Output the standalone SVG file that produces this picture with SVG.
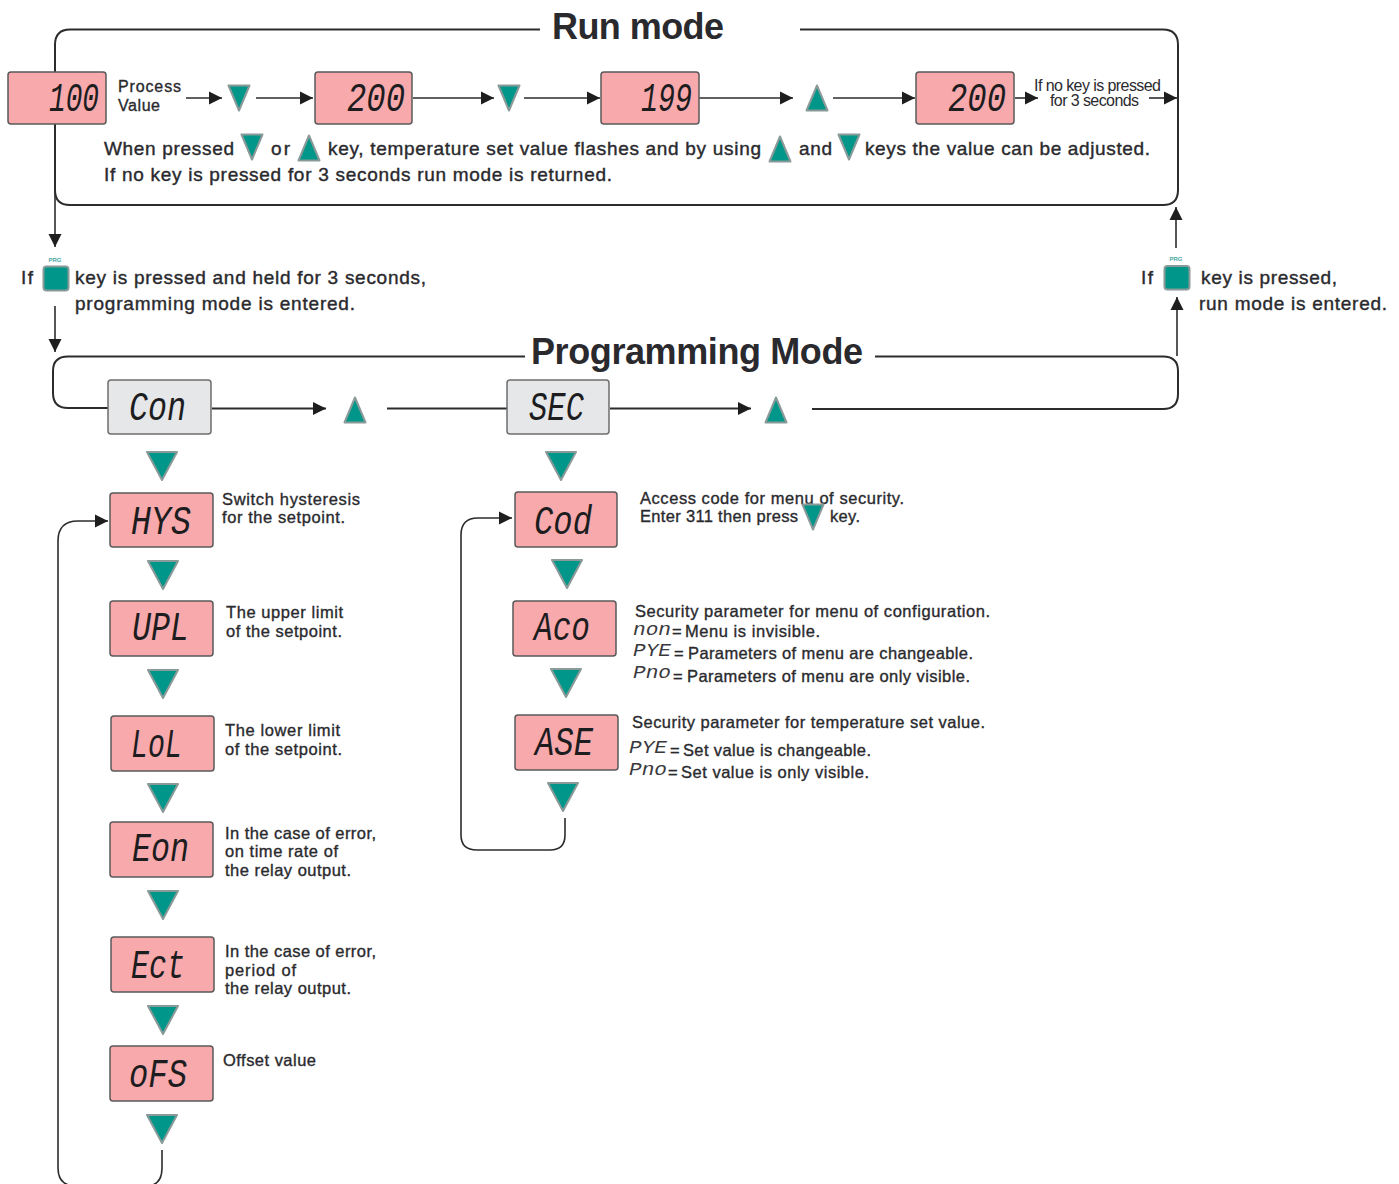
<svg xmlns="http://www.w3.org/2000/svg" width="1399" height="1184" viewBox="0 0 1399 1184">
<style>
text{font-family:"Liberation Sans",Arial,sans-serif;fill:#2a2a2e}
.t{font-size:16px;stroke:#2a2a2e;stroke-width:.35}
.m{font-size:19px;stroke:#2a2a2e;stroke-width:.4}
.s{font-size:16.500px;stroke:#2a2a2e;stroke-width:.35}
.h{font-size:36px;font-weight:bold}
.p{font-size:6px;font-weight:bold;fill:#4aa8a4;text-anchor:middle}
.d{font-family:"Liberation Mono",monospace;font-size:41px;font-style:italic;fill:#1d1d1f}
.i{font-family:"Liberation Mono",monospace;font-size:19px;font-style:italic;fill:#3a3a3e}
.b{fill:#f8a9ac;stroke:#5a5a5a;stroke-width:1.500}
.g{fill:#e6e7e8;stroke:#6e6e6e;stroke-width:1.500}
.k{fill:#009689;stroke:#8a9a98;stroke-width:2;stroke-linejoin:round}
.l{fill:none;stroke:#2c2c2c;stroke-width:1.600}
.f{fill:none;stroke:#2c2c2c;stroke-width:2}
.a{marker-end:url(#ah)}
</style>
<defs>
<marker id="ah" markerUnits="userSpaceOnUse" markerWidth="14" markerHeight="14" refX="13" refY="7" orient="auto"><path d="M0 0.500L13 7L0 13.500Z" fill="#1e1e1e"/></marker>
<path id="dn" class="k" d="M-15 -14H15L0 14Z"/>
<path id="dns" class="k" d="M-10.500 -12.500H10.500L0 12.500Z"/>
<path id="ups" class="k" d="M-10.500 12.500H10.500L0 -12.500Z"/>
</defs>

<g id="connectors">
<path class="f" d="M540 29.500H70Q55 29.500 55 45V72M55 124V190Q55 205 70 205H1163Q1178 205 1178 190V45Q1178 29.500 1163 29.500H800"/>
<path class="f" d="M525 356.500H68Q53 356.500 53 371V393Q53 408 68 408H108M875 356.500H1163Q1178 356.500 1178 371V394Q1178 409 1163 409H812"/>
<path class="l a" d="M186 98H222"/>
<path class="l a" d="M256 98H313"/>
<path class="l a" d="M413 98H494"/>
<path class="l a" d="M524 98H600"/>
<path class="l a" d="M699 98H793"/>
<path class="l a" d="M833 98H915"/>
<path class="l a" d="M1015 98H1038"/>
<path class="l a" d="M1149 98H1177"/>
<path class="l a" d="M55 190V247"/>
<path class="l a" d="M55 306V352"/>
<path class="l a" d="M1176 248V207"/>
<path class="l a" d="M1177 356V297"/>
<path class="f a" d="M212 408.500H326"/>
<path class="f" d="M387 408.500H507"/>
<path class="f a" d="M610 408.500H751"/>
<path class="l a" d="M162 1150V1168Q162 1186 146 1186H76Q58 1186 58 1168V541Q58 521 78 521H108"/>
<path class="l a" d="M565 818V835Q565 850 550 850H477Q461 850 461 835V535Q461 518 478 518H512"/>
</g>

<g id="run-title"><text class="h" x="552" y="39" textLength="172">Run mode</text></g>
<g id="prog-title"><text class="h" x="531" y="364" textLength="332">Programming Mode</text></g>

<g id="pv100"><rect class="b" x="8" y="72" width="98" height="52" rx="3"/><text class="d" x="49" y="111" textLength="50" lengthAdjust="spacingAndGlyphs">100</text></g>
<g id="pv-label"><text class="t" x="118" y="92" textLength="63">Process</text><text class="t" x="118" y="111" textLength="42">Value</text></g>
<g id="k1"><use href="#dns" x="239" y="98"/></g>
<g id="sv200a"><rect class="b" x="315" y="72" width="97" height="52" rx="3"/><text class="d" x="347" y="111" textLength="58" lengthAdjust="spacingAndGlyphs">200</text></g>
<g id="k2"><use href="#dns" x="509" y="98"/></g>
<g id="sv199"><rect class="b" x="601" y="72" width="98" height="52" rx="3"/><text class="d" x="641" y="111" textLength="51" lengthAdjust="spacingAndGlyphs">199</text></g>
<g id="k3"><use href="#ups" x="817" y="98"/></g>
<g id="sv200b"><rect class="b" x="916" y="72" width="98" height="52" rx="3"/><text class="d" x="948" y="111" textLength="58" lengthAdjust="spacingAndGlyphs">200</text></g>
<g id="nokey"><text x="1034" y="91" font-size="16" textLength="127">If no key is pressed</text><text x="1050" y="106" font-size="16" textLength="89">for 3 seconds</text></g>

<g id="run-note">
<text class="m" x="104" y="155" textLength="130">When pressed</text>
<use href="#dns" x="252" y="147"/>
<text class="m" x="271" y="155" textLength="19">or</text>
<use href="#ups" x="309" y="148"/>
<text class="m" x="328" y="155" textLength="433">key, temperature set value flashes and by using</text>
<use href="#ups" x="780" y="149"/>
<text class="m" x="799" y="155" textLength="33">and</text>
<use href="#dns" x="849" y="147"/>
<text class="m" x="865" y="155" textLength="285">keys the value can be adjusted.</text>
<text class="m" x="104" y="181" textLength="508">If no key is pressed for 3 seconds run mode is returned.</text>
</g>

<g id="prg-left">
<text class="m" x="21" y="284" textLength="12">If</text>
<text class="p" x="55" y="262">PRG</text>
<rect class="k" x="43.500" y="266.500" width="25" height="24" rx="3"/>
<text class="m" x="75" y="284" textLength="351">key is pressed and held for 3 seconds,</text>
<text class="m" x="75" y="310" textLength="280">programming mode is entered.</text>
</g>
<g id="prg-right">
<text class="m" x="1141" y="284" textLength="12">If</text>
<text class="p" x="1176" y="261">PRG</text>
<rect class="k" x="1164.500" y="266" width="25" height="23.500" rx="3"/>
<text class="m" x="1201" y="284" textLength="136">key is pressed,</text>
<text class="m" x="1199" y="310" textLength="188">run mode is entered.</text>
</g>

<g id="con"><rect class="g" x="108" y="380" width="103" height="54" rx="3"/><text class="d" x="129" y="420" textLength="57" lengthAdjust="spacingAndGlyphs">Con</text></g>
<g id="k-con-up"><use href="#ups" x="355" y="410" /></g>
<g id="sec"><rect class="g" x="507" y="380" width="102" height="54" rx="3"/><text class="d" x="529" y="420" textLength="55" lengthAdjust="spacingAndGlyphs">SEC</text></g>
<g id="k-sec-up"><use href="#ups" x="776" y="410"/></g>

<g id="k-a1"><use href="#dn" x="162" y="466"/></g>
<g id="hys"><rect class="b" x="110" y="493" width="103" height="54" rx="3"/><text class="d" x="131" y="534" textLength="60" lengthAdjust="spacingAndGlyphs">HYS</text><text class="s" x="222" y="505" textLength="138">Switch hysteresis</text><text class="s" x="222" y="523" textLength="123">for the setpoint.</text></g>
<g id="k-a2"><use href="#dn" x="163" y="575"/></g>
<g id="upl"><rect class="b" x="110" y="601" width="103" height="55" rx="3"/><text class="d" x="132" y="640" textLength="57" lengthAdjust="spacingAndGlyphs">UPL</text><text class="s" x="226" y="618" textLength="117">The upper limit</text><text class="s" x="226" y="637" textLength="116">of the setpoint.</text></g>
<g id="k-a3"><use href="#dn" x="163" y="684"/></g>
<g id="lol"><rect class="b" x="111" y="716" width="103" height="55" rx="3"/><text class="d" x="131" y="757" textLength="51" lengthAdjust="spacingAndGlyphs">LoL</text><text class="s" x="225" y="736" textLength="115">The lower limit</text><text class="s" x="225" y="755" textLength="117">of the setpoint.</text></g>
<g id="k-a4"><use href="#dn" x="163" y="798"/></g>
<g id="eon"><rect class="b" x="110" y="822" width="103" height="55" rx="3"/><text class="d" x="132" y="861" textLength="57" lengthAdjust="spacingAndGlyphs">Eon</text><text class="s" x="225" y="839" textLength="151">In the case of error,</text><text class="s" x="225" y="857" textLength="113">on time rate of</text><text class="s" x="225" y="876" textLength="126">the relay output.</text></g>
<g id="k-a5"><use href="#dn" x="163" y="905"/></g>
<g id="ect"><rect class="b" x="111" y="937" width="103" height="55" rx="3"/><text class="d" x="131" y="978" textLength="54" lengthAdjust="spacingAndGlyphs">Ect</text><text class="s" x="225" y="957" textLength="151">In the case of error,</text><text class="s" x="225" y="976" textLength="71">period of</text><text class="s" x="225" y="994" textLength="126">the relay output.</text></g>
<g id="k-a6"><use href="#dn" x="163" y="1020"/></g>
<g id="ofs"><rect class="b" x="110" y="1046" width="103" height="55" rx="3"/><text class="d" x="129" y="1087" textLength="58" lengthAdjust="spacingAndGlyphs">oFS</text><text class="s" x="223" y="1066" textLength="93">Offset value</text></g>
<g id="k-a7"><use href="#dn" x="162" y="1129"/></g>

<g id="k-b1"><use href="#dn" x="561" y="466"/></g>
<g id="cod"><rect class="b" x="515" y="492" width="102" height="55" rx="3"/><text class="d" x="534" y="534" textLength="58" lengthAdjust="spacingAndGlyphs">Cod</text><text class="s" x="640" y="504" textLength="264">Access code for menu of security.</text><text class="s" x="640" y="522" textLength="158">Enter 311 then press</text><use href="#dns" x="813" y="517"/><text class="s" x="830" y="522" textLength="30">key.</text></g>
<g id="k-b2"><use href="#dn" x="567" y="574"/></g>
<g id="aco"><rect class="b" x="513" y="601" width="103" height="55" rx="3"/><text class="d" x="534" y="640" textLength="56" lengthAdjust="spacingAndGlyphs">Aco</text>
<text class="s" x="635" y="617" textLength="355">Security parameter for menu of configuration.</text>
<text class="i" x="633" y="635" textLength="38" lengthAdjust="spacingAndGlyphs">non</text><text class="s" x="672" y="637">=</text><text class="s" x="685" y="637" textLength="135">Menu is invisible.</text>
<text class="i" x="633" y="656" textLength="38" lengthAdjust="spacingAndGlyphs">PYE</text><text class="s" x="674" y="659">=</text><text class="s" x="688" y="659" textLength="285">Parameters of menu are changeable.</text>
<text class="i" x="633" y="678" textLength="38" lengthAdjust="spacingAndGlyphs">Pno</text><text class="s" x="673" y="682">=</text><text class="s" x="687" y="682" textLength="283">Parameters of menu are only visible.</text></g>
<g id="k-b3"><use href="#dn" x="566" y="683"/></g>
<g id="ase"><rect class="b" x="515" y="715" width="103" height="55" rx="3"/><text class="d" x="535" y="755" textLength="58" lengthAdjust="spacingAndGlyphs">ASE</text>
<text class="s" x="632" y="728" textLength="353">Security parameter for temperature set value.</text>
<text class="i" x="629" y="753" textLength="38" lengthAdjust="spacingAndGlyphs">PYE</text><text class="s" x="670" y="756">=</text><text class="s" x="683" y="756" textLength="188">Set value is changeable.</text>
<text class="i" x="629" y="775" textLength="38" lengthAdjust="spacingAndGlyphs">Pno</text><text class="s" x="668" y="778">=</text><text class="s" x="681" y="778" textLength="188">Set value is only visible.</text></g>
<g id="k-b4"><use href="#dn" x="563" y="797"/></g>
</svg>
